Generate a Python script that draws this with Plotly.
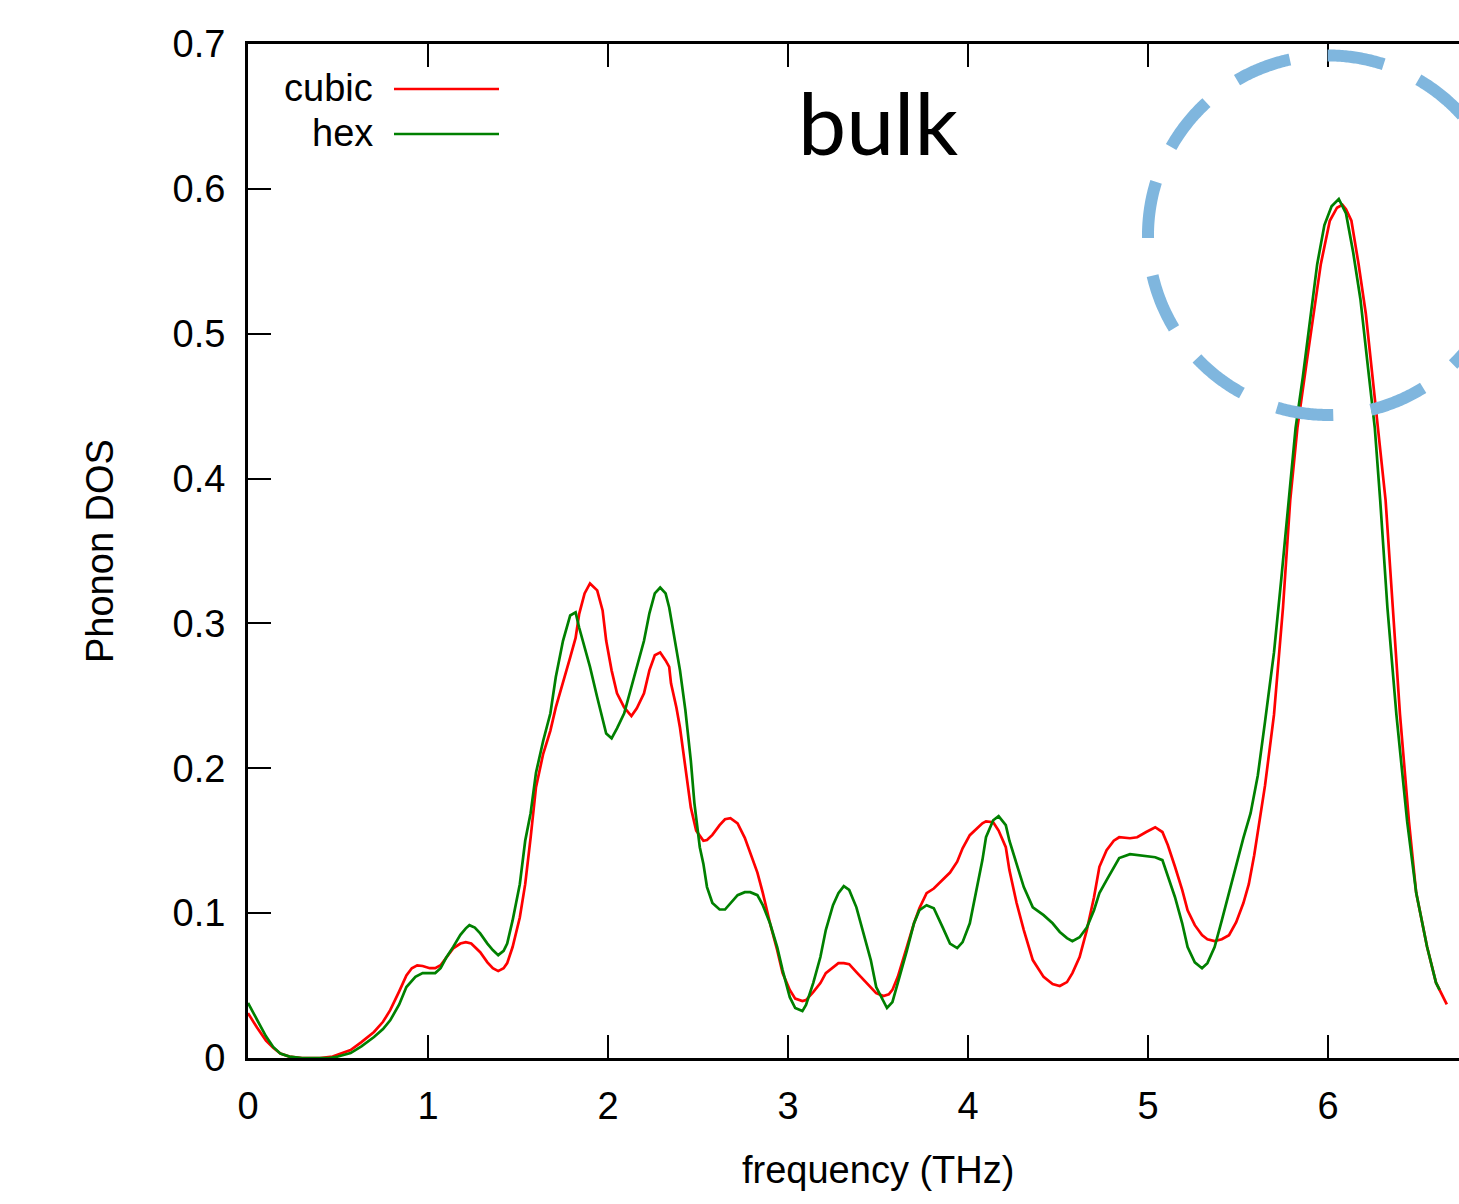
import numpy as np
import plotly.graph_objects as go

# ---------------- data ----------------
freq_cubic = [0.00, 0.05, 0.10, 0.14, 0.18, 0.23, 0.30, 0.40, 0.47, 0.52, 0.57, 0.63, 0.70, 0.75, 0.79,
              0.84, 0.88, 0.91, 0.94, 0.97, 1.01, 1.04, 1.07, 1.10, 1.14, 1.18, 1.21, 1.24, 1.29, 1.33,
              1.36, 1.39, 1.42, 1.44, 1.47, 1.51, 1.54, 1.57, 1.60, 1.64, 1.68, 1.71, 1.75, 1.79, 1.82,
              1.84, 1.87, 1.90, 1.94, 1.97, 1.99, 2.02, 2.05, 2.09, 2.13, 2.16, 2.20, 2.23, 2.26, 2.29,
              2.32, 2.34, 2.35, 2.38, 2.40, 2.43, 2.46, 2.49, 2.53, 2.55, 2.58, 2.62, 2.65, 2.68, 2.72,
              2.76, 2.79, 2.83, 2.86, 2.90, 2.94, 2.97, 3.01, 3.04, 3.08, 3.10, 3.14, 3.18, 3.21,
              3.25, 3.28, 3.31, 3.34, 3.38, 3.42, 3.46, 3.49, 3.53, 3.56, 3.58, 3.61, 3.66, 3.70, 3.73,
              3.77, 3.81, 3.86, 3.90, 3.94, 3.97, 4.01, 4.05, 4.08, 4.10, 4.14, 4.17, 4.21, 4.23, 4.27,
              4.31, 4.36, 4.42, 4.47, 4.51, 4.55, 4.58, 4.62, 4.66, 4.70, 4.73, 4.77, 4.81, 4.84, 4.90,
              4.94, 4.99, 5.04, 5.08, 5.11, 5.15, 5.19, 5.22, 5.26, 5.30, 5.33, 5.37, 5.41, 5.45, 5.49,
              5.53, 5.56, 5.59, 5.62, 5.65, 5.70, 5.75, 5.79, 5.83, 5.88, 5.92, 5.96, 6.01, 6.05, 6.08,
              6.10, 6.13, 6.17, 6.21, 6.24, 6.28, 6.32, 6.36, 6.40, 6.45, 6.49, 6.55, 6.60, 6.66]
dos_cubic = [0.031, 0.021, 0.012, 0.007, 0.003, 0.001, 0.000, 0.000, 0.001, 0.003, 0.0055, 0.011, 0.018, 0.025, 0.033,
             0.046, 0.057, 0.062, 0.064, 0.0635, 0.062, 0.062, 0.064, 0.069, 0.0757, 0.079, 0.080, 0.079, 0.073, 0.066,
             0.062, 0.060, 0.062, 0.0655, 0.0766, 0.097, 0.120, 0.152, 0.187, 0.210, 0.226, 0.242, 0.2586, 0.2766, 0.290,
             0.3066, 0.3207, 0.3276, 0.3228, 0.309, 0.288, 0.2676, 0.2517, 0.242, 0.236, 0.2414, 0.2517, 0.2676, 0.278, 0.280,
             0.2745, 0.270, 0.2586, 0.242, 0.228, 0.2007, 0.173, 0.157, 0.150, 0.1505, 0.154, 0.1607, 0.1648, 0.1655, 0.162,
             0.152, 0.142, 0.128, 0.114, 0.093, 0.0745, 0.0586, 0.047, 0.041, 0.0393, 0.040, 0.0455, 0.0517, 0.0586,
             0.0628, 0.0655, 0.0655, 0.0648, 0.0593, 0.0538, 0.0483, 0.0448, 0.0428, 0.044, 0.047, 0.056, 0.0766, 0.093, 0.1034,
             0.1138, 0.117, 0.1228, 0.128, 0.1355, 0.1448, 0.1538, 0.1586, 0.162, 0.1634, 0.1628, 0.157, 0.1455, 0.1297, 0.107,
             0.0883, 0.0676, 0.056, 0.051, 0.0497, 0.0524, 0.0586, 0.0697, 0.0883, 0.111, 0.132, 0.1434, 0.150, 0.1524, 0.1517,
             0.1524, 0.156, 0.1593, 0.156, 0.147, 0.132, 0.116, 0.102, 0.0917, 0.0848, 0.082, 0.0807, 0.082, 0.0848, 0.0938,
             0.107, 0.120, 0.140, 0.163, 0.188, 0.237, 0.311, 0.385, 0.435, 0.479, 0.514, 0.548, 0.578, 0.587, 0.589,
             0.586, 0.578, 0.548, 0.514, 0.479, 0.435, 0.385, 0.311, 0.237, 0.163, 0.114, 0.077, 0.052, 0.037]

freq_hex = [0.00, 0.05, 0.10, 0.14, 0.18, 0.23, 0.30, 0.45, 0.50, 0.57, 0.63, 0.70, 0.75, 0.79, 0.84,
            0.88, 0.93, 0.97, 1.04, 1.07, 1.10, 1.14, 1.18, 1.21, 1.23, 1.26, 1.29, 1.33, 1.36, 1.39,
            1.42, 1.44, 1.47, 1.51, 1.54, 1.57, 1.60, 1.64, 1.68, 1.71, 1.75, 1.79, 1.82, 1.84, 1.87,
            1.90, 1.94, 1.97, 1.99, 2.02, 2.05, 2.09, 2.13, 2.16, 2.20, 2.23, 2.26, 2.29, 2.32, 2.34,
            2.35, 2.38, 2.40, 2.43, 2.46, 2.48, 2.51, 2.53, 2.55, 2.58, 2.62, 2.65, 2.68, 2.72, 2.76,
            2.79, 2.83, 2.86, 2.90, 2.94, 2.97, 3.01, 3.04, 3.08, 3.10, 3.14, 3.18, 3.21, 3.25, 3.28,
            3.31, 3.34, 3.38, 3.42, 3.46, 3.49, 3.53, 3.55, 3.58, 3.61, 3.66, 3.70, 3.73, 3.77, 3.81,
            3.86, 3.90, 3.94, 3.97, 4.01, 4.05, 4.08, 4.10, 4.14, 4.17, 4.21, 4.23, 4.27, 4.31, 4.36,
            4.42, 4.47, 4.51, 4.55, 4.58, 4.62, 4.66, 4.70, 4.73, 4.77, 4.81, 4.84, 4.90, 4.94, 4.99,
            5.04, 5.08, 5.11, 5.15, 5.19, 5.22, 5.26, 5.30, 5.33, 5.37, 5.41, 5.45, 5.49, 5.53, 5.57,
            5.61, 5.65, 5.70, 5.74, 5.78, 5.82, 5.86, 5.90, 5.94, 5.98, 6.02, 6.06, 6.10, 6.14, 6.18,
            6.22, 6.26, 6.29, 6.33, 6.38, 6.44, 6.49, 6.55, 6.60, 6.62]
dos_hex = [0.038, 0.026, 0.015, 0.0076, 0.003, 0.001, 0.000, 0.000, 0.001, 0.0034, 0.008, 0.0145, 0.020, 0.026, 0.037,
           0.049, 0.056, 0.0586, 0.0586, 0.062, 0.069, 0.0767, 0.085, 0.0895, 0.0917, 0.090, 0.086, 0.079, 0.0745, 0.071,
           0.074, 0.079, 0.095, 0.120, 0.150, 0.169, 0.197, 0.219, 0.238, 0.263, 0.288, 0.3055, 0.3076, 0.297, 0.2834,
           0.270, 0.249, 0.235, 0.224, 0.2207, 0.2276, 0.238, 0.256, 0.270, 0.288, 0.307, 0.3207, 0.3248, 0.3207, 0.311,
           0.304, 0.2834, 0.2676, 0.240, 0.2055, 0.176, 0.1455, 0.134, 0.118, 0.107, 0.1025, 0.1025, 0.107, 0.1124, 0.1145,
           0.1145, 0.1124, 0.1055, 0.093, 0.0766, 0.0607, 0.042, 0.0345, 0.0324, 0.0366, 0.0517, 0.0697, 0.0883, 0.1055, 0.1138,
           0.1186, 0.116, 0.104, 0.086, 0.0676, 0.049, 0.0386, 0.0345, 0.0386, 0.0517, 0.074, 0.093, 0.102, 0.1055, 0.1034,
           0.090, 0.079, 0.0759, 0.080, 0.093, 0.118, 0.1366, 0.1524, 0.1641, 0.1669, 0.1607, 0.150, 0.1345, 0.118, 0.104,
           0.0986, 0.093, 0.087, 0.0828, 0.0807, 0.0834, 0.090, 0.102, 0.1138, 0.1228, 0.132, 0.138, 0.1407, 0.140, 0.1393,
           0.1386, 0.1366, 0.126, 0.111, 0.093, 0.0766, 0.066, 0.062, 0.0655, 0.0766, 0.095, 0.114, 0.1345, 0.152, 0.169,
           0.195, 0.232, 0.280, 0.330, 0.385, 0.435, 0.470, 0.510, 0.548, 0.575, 0.588, 0.593, 0.583, 0.556, 0.524,
           0.479, 0.435, 0.385, 0.311, 0.237, 0.163, 0.114, 0.077, 0.052, 0.047]

x_tick_vals = [0, 1, 2, 3, 4, 5, 6]
x_tick_text = ["0", "1", "2", "3", "4", "5", "6"]
y_tick_vals = [0, 0.1, 0.2, 0.3, 0.4, 0.5, 0.6, 0.7]
y_tick_text = ["0", "0.1", "0.2", "0.3", "0.4", "0.5", "0.6", "0.7"]

series_names = ["cubic", "hex"]
series_colors = ["#ff0000", "#008000"]

# highlight circle (data coordinates)
circle_cx, circle_cy = 6.0, 0.568
circle_rx, circle_ry = 1.0, 0.1241

# ---------------- figure ----------------
W, H = 1459, 1204
ML, MR, MT, MB = 248, 0, 44, 146
PW, PH = W - ML - MR, H - MT - MB
XMAX = PW / 180.0

FONT = "Liberation Sans, Arial, sans-serif"
FS = 38

fig = go.Figure()
for fx, fy, nm, col in [(freq_cubic, dos_cubic, series_names[0], series_colors[0]),
                        (freq_hex, dos_hex, series_names[1], series_colors[1])]:
    fig.add_trace(go.Scatter(x=fx, y=fy, mode="lines", name=nm,
                             line=dict(color=col, width=2.7), showlegend=False))

# dashed circle as a path
t = np.linspace(0.2, 0.2 + 2 * np.pi, 721)
cxs = circle_cx + circle_rx * np.cos(t)
cys = circle_cy + circle_ry * np.sin(t)
path = "M " + " L ".join(f"{a:.5f},{b:.5f}" for a, b in zip(cxs, cys))
fig.add_shape(type="path", path=path, xref="x", yref="y",
              line=dict(color="#7fb6de", width=12, dash="57px,38px"))

def px_x(px):
    return (px - ML) / PW

def px_y(py):
    return (H - MB - py) / PH

# legend (text right-aligned, sample line to the right)
for i, (nm, col) in enumerate(zip(series_names, series_colors)):
    yy = [88, 133][i]
    fig.add_annotation(text=nm, xref="paper", yref="paper", x=px_x(375), y=px_y(yy),
                       xanchor="right", yanchor="middle", showarrow=False,
                       font=dict(family=FONT, size=FS, color="black"))
    fig.add_shape(type="line", xref="paper", yref="paper",
                  x0=px_x(394), x1=px_x(499), y0=px_y(yy + 1), y1=px_y(yy + 1),
                  line=dict(color=col, width=2.7))

# title 'bulk'
fig.add_annotation(text="bulk", xref="x", yref="paper", x=3.5, y=px_y(122),
                   xanchor="center", yanchor="middle", showarrow=False,
                   font=dict(family="Lato, sans-serif", size=86, color="black"))

# axis titles
fig.add_annotation(text="frequency (THz)", xref="x", yref="paper", x=3.5, y=0,
                   yshift=-(1170 - (H - MB)), xanchor="center", yanchor="middle", showarrow=False,
                   font=dict(family=FONT, size=FS, color="black"))
fig.add_annotation(text="Phonon DOS", xref="paper", yref="paper", x=0, y=0.5,
                   xshift=-(ML - 100), xanchor="center", yanchor="middle", textangle=-90,
                   showarrow=False, font=dict(family=FONT, size=FS, color="black"))

fig.update_layout(
    width=W, height=H,
    margin=dict(l=ML, r=MR, t=MT, b=MB, pad=0),
    paper_bgcolor="white", plot_bgcolor="white",
    showlegend=False,
    xaxis=dict(range=[0, XMAX], showgrid=False, zeroline=False,
               showline=True, linecolor="black", linewidth=3, mirror="ticks",
               ticks="inside", ticklen=23, tickwidth=2.2, tickcolor="black",
               tickvals=x_tick_vals, ticktext=x_tick_text,
               tickfont=dict(family=FONT, size=FS, color="black"),
               ticklabelstandoff=12),
    yaxis=dict(range=[0, 0.7], showgrid=False, zeroline=False,
               showline=True, linecolor="black", linewidth=3, mirror=False,
               ticks="inside", ticklen=23, tickwidth=2.2, tickcolor="black",
               tickvals=y_tick_vals, ticktext=y_tick_text,
               tickfont=dict(family=FONT, size=FS, color="black"),
               ticklabelstandoff=12),
)

fig.write_html("out.html",
               config={"displayModeBar": False},
               post_script="document.body.style.margin='0';document.body.style.padding='0';"
                           "document.documentElement.style.overflow='hidden';")
